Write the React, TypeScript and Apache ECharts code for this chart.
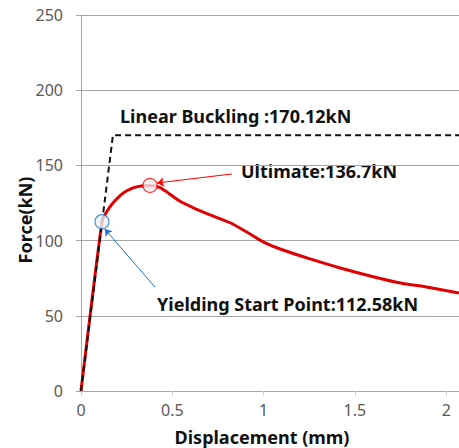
import React, { useEffect, useRef } from "react";
import * as echarts from "echarts";

const yTicks = [0, 50, 100, 150, 200, 250];
const xTicks = [0, 0.5, 1, 1.5, 2];

const curveDisp = [0, 0.115, 0.14, 0.175, 0.23, 0.285, 0.33, 0.378, 0.433, 0.48, 0.54, 0.63, 0.71, 0.82, 0.91, 1.0, 1.09, 1.25, 1.42, 1.6, 1.75, 1.9, 2.07];
const curveForce = [0, 112.58, 119, 125, 131.5, 135, 136.3, 136.7, 135.3, 131.5, 126.3, 121, 117, 111.7, 105.5, 99, 94.4, 88, 81.8, 76, 71.8, 69, 65.2];

const bucklingDisp = [0, 0.175, 2.07];
const bucklingForce = [0, 170.12, 170.12];

const yieldPoint = [0.115, 112.58];
const ultimatePoint = [0.378, 136.7];

const ultimateArrow = [[0.827, 144.3], [0.416, 138.3]];
const yieldArrow = [[0.405, 69.1], [0.13, 107.7]];

const labels = {
  buckling: "Linear Buckling :170.12kN",
  ultimate: "Ultimate:136.7kN",
  yielding: "Yielding Start Point:112.58kN",
  xName: "Displacement (mm)",
  yName: "Force(kN)",
};

export default function App() {
  const ref = useRef<HTMLDivElement>(null);
  useEffect(() => {
    if (!ref.current) return;
    const chart = echarts.init(ref.current, undefined, { renderer: "svg" });
    const font = "'Noto Sans', sans-serif";
    const gridColor = "#a6a6a6";
    chart.setOption({
      animation: false,
      grid: { left: 81, top: 15, right: 0, bottom: 57, containLabel: false },
      xAxis: {
        type: "value",
        min: 0,
        max: 2.07,
        interval: 0.5,
        axisLine: { show: true, lineStyle: { color: gridColor, width: 1 } },
        axisTick: { show: true, length: 5, lineStyle: { color: "#d0d0d0" } },
        splitLine: { show: false },
        axisLabel: {
          color: "#595959",
          fontSize: 16,
          fontFamily: font,
          margin: 11,
          showMaxLabel: false,
          formatter: (v: number) => (xTicks.includes(v) ? String(v) : ""),
        },
      },
      yAxis: {
        type: "value",
        min: 0,
        max: 250,
        interval: 50,
        axisLine: { show: true, lineStyle: { color: gridColor, width: 1 } },
        axisTick: { show: true, length: 5, lineStyle: { color: gridColor } },
        splitLine: { show: true, lineStyle: { color: gridColor, width: 1 } },
        axisLabel: {
          color: "#595959",
          fontSize: 16,
          fontFamily: font,
          margin: 18,
          formatter: (v: number) => (yTicks.includes(v) ? String(v) : ""),
        },
      },
      series: [
        {
          type: "line",
          data: bucklingDisp.map((d, i) => [d, bucklingForce[i]]),
          showSymbol: false,
          lineStyle: { color: "#111", width: 2, type: [6, 4] },
          z: 3,
        },
        {
          type: "line",
          data: curveDisp.map((d, i) => [d, curveForce[i]]),
          showSymbol: false,
          smooth: 0.2,
          lineStyle: { color: "#e00000", width: 3 },
          z: 2,
          markLine: {
            silent: true,
            symbol: ["none", "arrow"],
            symbolSize: 7,
            label: { show: false },
            data: [
              [
                { coord: ultimateArrow[0], lineStyle: { color: "#ff0000", width: 1, type: "solid" } },
                { coord: ultimateArrow[1] },
              ],
              [
                { coord: yieldArrow[0], lineStyle: { color: "#1874cd", width: 1, type: "solid" } },
                { coord: yieldArrow[1] },
              ],
            ],
          },
        },
        {
          type: "scatter",
          data: [ultimatePoint],
          symbol: "circle",
          symbolSize: 14,
          itemStyle: { color: "#eeeeee", borderColor: "#ff0000", borderWidth: 1.2 },
          z: 5,
        },
        {
          type: "scatter",
          data: [yieldPoint],
          symbol: "circle",
          symbolSize: 14,
          itemStyle: { color: "#eef2f8", borderColor: "#1874cd", borderWidth: 1.2 },
          z: 5,
        },
      ],
      graphic: [
        {
          type: "text",
          left: 120,
          top: 107,
          style: { text: labels.buckling, font: `bold 18px ${font}`, fill: "#111" },
        },
        {
          type: "text",
          left: 241,
          top: 162,
          style: { text: labels.ultimate, font: `bold 18px ${font}`, fill: "#111" },
        },
        {
          type: "text",
          left: 157,
          top: 295,
          style: { text: labels.yielding, font: `bold 18px ${font}`, fill: "#111" },
        },
        {
          type: "text",
          x: 262,
          y: 437,
          style: {
            text: labels.xName,
            font: `bold 18px ${font}`,
            fill: "#111",
            align: "center",
            verticalAlign: "middle",
          },
        },
        {
          type: "text",
          x: 25,
          y: 220,
          rotation: Math.PI / 2,
          style: {
            text: labels.yName,
            font: `bold 18px ${font}`,
            fill: "#111",
            align: "center",
            verticalAlign: "middle",
          },
        },
      ],
    });
    return () => chart.dispose();
  }, []);
  return <div ref={ref} style={{ width: 459, height: 448, position: "absolute", left: 0, top: 0 }} />;
}
